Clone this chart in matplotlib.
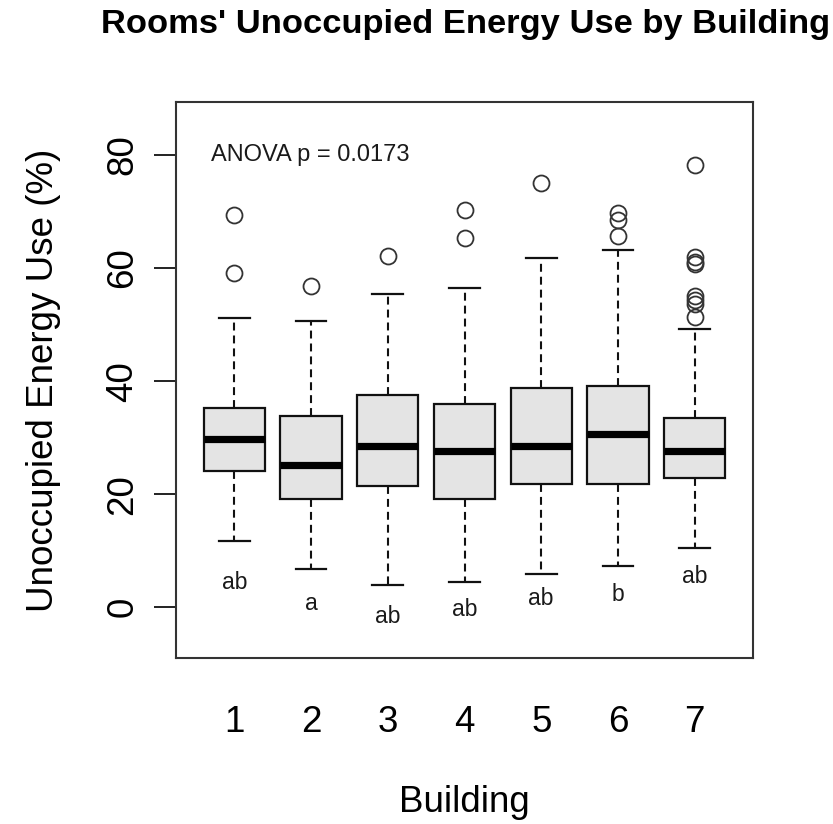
import matplotlib
matplotlib.use("Agg")
import matplotlib.pyplot as plt

plt.rcParams['font.family'] = ['Liberation Sans', 'DejaVu Sans']

# Summary statistics per building (percent of energy used while unoccupied)
buildings = [1, 2, 3, 4, 5, 6, 7]
whisker_low = [11.7, 6.8, 4.0, 4.4, 5.8, 7.2, 10.4]
q1 = [24.1, 19.2, 21.4, 19.2, 21.8, 21.8, 22.8]
median = [29.7, 25.1, 28.6, 27.6, 28.6, 30.7, 27.6]
q3 = [35.2, 33.8, 37.6, 35.9, 38.7, 39.1, 33.4]
whisker_high = [51.1, 50.7, 55.4, 56.4, 61.8, 63.2, 49.3]
outliers = [
    [69.4, 59.2],
    [56.9],
    [62.1],
    [70.3, 65.3],
    [75.1],
    [69.7, 68.5, 65.7],
    [78.2, 61.9, 61.1, 60.7, 55.0, 54.4, 53.7, 51.3],
]

# Tukey group letters and their vertical placement
group_letters = ["ab", "a", "ab", "ab", "ab", "b", "ab"]
letter_y = [4.3, 0.65, -1.6, -0.5, 1.5, 2.2, 5.5]
anova_text = "ANOVA p = 0.0173"

y_ticks = [0, 20, 40, 60, 80]

fig = plt.figure(figsize=(8.33, 8.24), dpi=100)
ax = fig.add_axes([176 / 833, 1 - 658 / 824, 577 / 833, 556 / 824])

stats = []
for i in range(len(buildings)):
    stats.append(dict(
        whislo=whisker_low[i], q1=q1[i], med=median[i], q3=q3[i],
        whishi=whisker_high[i], fliers=outliers[i], label=str(buildings[i]),
    ))

ax.bxp(
    stats, positions=buildings, widths=0.8, patch_artist=True,
    boxprops=dict(facecolor="#E4E4E4", edgecolor="#111111", linewidth=1.6),
    medianprops=dict(color="black", linewidth=5.2, solid_capstyle="butt"),
    whiskerprops=dict(color="#111111", linewidth=1.5, linestyle=(0, (3.8, 2.4))),
    capprops=dict(color="#111111", linewidth=1.6),
    capwidths=0.4,
    flierprops=dict(marker="o", markerfacecolor="none", markeredgecolor="#333333",
                    markersize=11.5, markeredgewidth=1.3, linestyle="none"),
)

for x, lab, y in zip(buildings, group_letters, letter_y):
    ax.text(x, y, lab, ha="center", va="center", fontsize=16.5, color="#1a1a1a")

ax.text(0.70, 80.0, anova_text, ha="left", va="center", fontsize=17, color="#1a1a1a")

ax.set_xlim(0.24, 7.76)
ax.set_ylim(-9.0, 89.4)

ax.set_yticks(y_ticks)
ax.set_yticklabels([str(v) for v in y_ticks], rotation=90, va="center", fontsize=26.5)
ax.tick_params(axis="y", length=15.8, width=1.3, pad=10, color="#111111")
ax.set_xticks(buildings)
ax.set_xticklabels([str(b) for b in buildings], fontsize=26.5)
ax.tick_params(axis="x", length=0, pad=34)

for s in ax.spines.values():
    s.set_linewidth(1.5)
    s.set_color("#333333")

ax.set_xlabel("Building", fontsize=26.5, labelpad=32)
ax.set_ylabel("Unoccupied Energy Use (%)", fontsize=26.5, labelpad=32)
fig.text(466 / 833, 1 - 24 / 824, "Rooms' Unoccupied Energy Use by Building",
         ha="center", va="center", fontsize=24.8, fontweight="bold")

fig.savefig("out.png", dpi=100)
